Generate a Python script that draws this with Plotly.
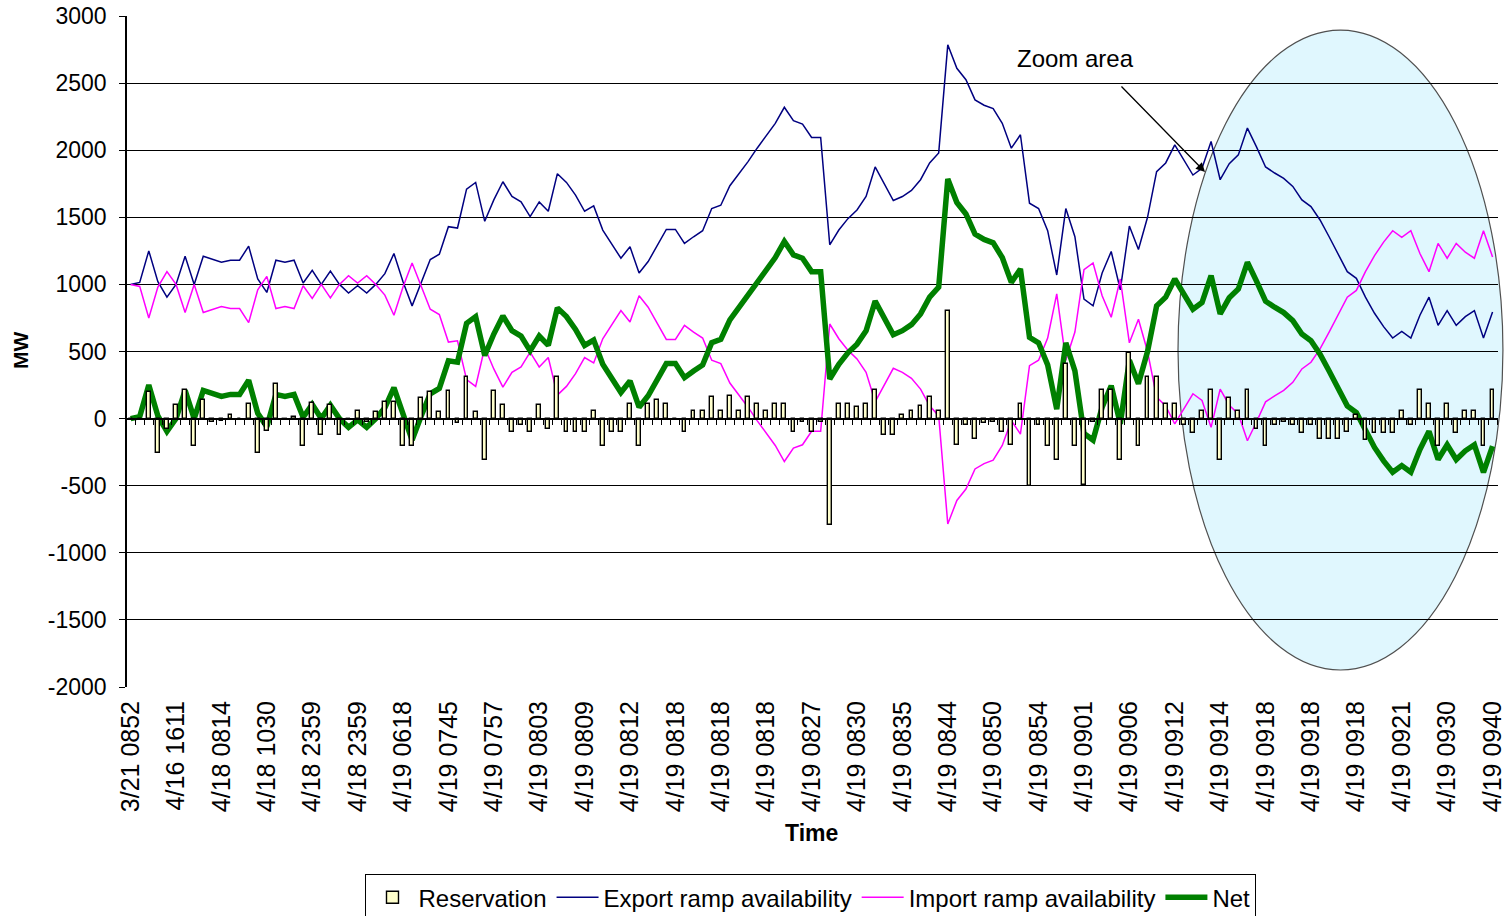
import plotly.graph_objects as go

# ---------------- data ----------------
tick_labels = ["3/21 0852", "4/16 1611", "4/18 0814", "4/18 1030", "4/18 2359", "4/18 2359",
               "4/19 0618", "4/19 0745", "4/19 0757", "4/19 0803", "4/19 0809", "4/19 0812",
               "4/19 0818", "4/19 0818", "4/19 0818", "4/19 0827", "4/19 0830", "4/19 0835",
               "4/19 0844", "4/19 0850", "4/19 0854", "4/19 0901", "4/19 0906", "4/19 0912",
               "4/19 0914", "4/19 0918", "4/19 0918", "4/19 0918", "4/19 0921", "4/19 0930",
               "4/19 0940"]

y_ticks = [-2000, -1500, -1000, -500, 0, 500, 1000, 1500, 2000, 2500, 3000]

export_ramp = [1000, 1015, 1250, 1020, 905, 1000, 1210, 1000, 1210, 1185,
               1165, 1180, 1180, 1285, 1040, 940, 1180, 1165, 1180, 1010,
               1105, 1000, 1100, 1000, 935, 990, 935, 1000, 1080, 1230,
               1020, 840, 1020, 1185, 1225, 1430, 1420, 1710, 1760, 1470,
               1630, 1765, 1655, 1615, 1505, 1615, 1545, 1825, 1760, 1665,
               1545, 1585, 1405, 1295, 1195, 1280, 1085, 1170, 1295, 1410,
               1410, 1305, 1355, 1400, 1565, 1590, 1735, 1825, 1915, 2015,
               2105, 2200, 2320, 2220, 2195, 2095, 2095, 1295, 1405, 1490,
               1555, 1655, 1875, 1755, 1625, 1655, 1700, 1780, 1905, 1980,
               2785, 2610, 2525, 2375, 2335, 2310, 2200, 2015, 2115, 1605,
               1565, 1400, 1070, 1565, 1355, 890, 840, 1085, 1245, 960,
               1435, 1260, 1500, 1840, 1905, 2040, 1925, 1815, 1865, 2065,
               1780, 1900, 1965, 2165, 2025, 1875, 1830, 1790, 1730, 1630,
               1580, 1480, 1355, 1220, 1095, 1045, 905, 785, 685, 600,
               650, 600, 770, 905, 695, 805, 695, 760, 805, 600,
               795]

import_ramp = [1000, 985, 750, 980, 1095, 1000, 790, 1000, 790, 815,
               835, 820, 820, 715, 960, 1060, 820, 835, 820, 990,
               895, 1000, 900, 1000, 1065, 1010, 1065, 1000, 920, 770,
               980, 1160, 980, 815, 775, 570, 580, 290, 240, 530,
               370, 235, 345, 385, 495, 385, 455, 175, 240, 335,
               455, 415, 595, 705, 805, 720, 915, 830, 705, 590,
               590, 695, 645, 600, 435, 410, 265, 175, 85, -15,
               -105, -200, -320, -220, -195, -95, -95, 705, 595, 510,
               445, 345, 125, 245, 375, 345, 300, 220, 95, 20,
               -785, -610, -525, -375, -335, -310, -200, -15, -115, 395,
               435, 600, 930, 435, 645, 1110, 1160, 915, 755, 1040,
               565, 740, 500, 160, 95, -40, 75, 185, 135, -65,
               220, 100, 35, -165, -25, 125, 170, 210, 270, 370,
               420, 520, 645, 780, 905, 955, 1095, 1215, 1315, 1400,
               1350, 1400, 1230, 1095, 1305, 1195, 1305, 1240, 1195, 1400,
               1205]

net = [0, 15, 250, 20, -95, 0, 210, 0, 210, 185,
       165, 180, 180, 285, 40, -60, 180, 165, 180, 10,
       105, 0, 100, 0, -65, -10, -65, 0, 80, 230,
       20, -160, 20, 185, 225, 430, 420, 710, 760, 470,
       630, 765, 655, 615, 505, 615, 545, 825, 760, 665,
       545, 585, 405, 295, 195, 280, 85, 170, 295, 410,
       410, 305, 355, 400, 565, 590, 735, 825, 915, 1015,
       1105, 1200, 1320, 1220, 1195, 1095, 1095, 295, 405, 490,
       555, 655, 875, 755, 625, 655, 700, 780, 905, 980,
       1785, 1610, 1525, 1375, 1335, 1310, 1200, 1015, 1115, 605,
       565, 400, 70, 565, 355, -110, -160, 85, 245, -40,
       435, 260, 500, 840, 905, 1040, 925, 815, 865, 1065,
       780, 900, 965, 1165, 1025, 875, 830, 790, 730, 630,
       580, 480, 355, 220, 95, 45, -95, -215, -315, -400,
       -350, -400, -230, -95, -305, -195, -305, -240, -195, -400,
       -205]

reservation = [0, 0, 200, -255, -75, 105, 210, -205, 135, -25,
               -15, 25, 0, 110, -255, -95, 260, -10, 15, -205,
               120, -120, 100, -125, -10, 55, -25, 50, 125, 125,
               -205, -205, 155, 200, 50, 205, -30, 310, 50, -305,
               205, 105, -100, -50, -100, 105, -75, 310, -100, -100,
               -100, 55, -205, -100, -100, 110, -205, 110, 135, 110,
               0, -100, 55, 55, 160, 55, 170, 55, 160, 110,
               55, 110, 110, -100, -25, -100, -25, -795, 110, 110,
               85, 110, 210, -125, -125, 25, 60, 95, 160, 60,
               805, -200, -50, -150, -35, -25, -100, -200, 110, -500,
               -50, -205, -305, 410, -205, -495, -25, 210, 210, -305,
               490, -205, 310, 310, 110, 110, -50, -110, 60, 210,
               -305, 155, 60, 210, -75, -205, -50, -25, -50, -110,
               -50, -155, -155, -155, -100, 25, -160, -105, -105, -105,
               60, -50, 210, 110, -205, 110, -105, 60, 60, -205,
               210]

# ---------------- figure ----------------
N = len(export_ramp)
xs = list(range(N))
label_step = 5
tick_pos = list(range(0, N, label_step))
boundaries = [k - 0.5 for k in range(N + 1)]
xrange_ = [-0.4, N - 0.4]

FONT = "Liberation Sans, Arial, sans-serif"

fig = go.Figure()
fig.add_trace(go.Bar(
    x=xs, y=reservation, name="Reservation", xaxis="x2",
    width=0.42,
    marker=dict(color="#FFFFCC", line=dict(color="#000000", width=1.4)),
))
fig.add_trace(go.Scatter(
    x=xs, y=export_ramp, name="Export ramp availability", mode="lines",
    line=dict(color="#000080", width=1.5),
))
fig.add_trace(go.Scatter(
    x=xs, y=import_ramp, name="Import ramp availability", mode="lines",
    line=dict(color="#FF00FF", width=1.5),
))
fig.add_trace(go.Scatter(
    x=xs, y=net, name="Net", mode="lines",
    line=dict(color="#008000", width=5.5),
))

fig.update_layout(
    width=1504, height=916,
    margin=dict(l=127, r=6, t=16, b=229, autoexpand=False),
    paper_bgcolor="white",
    plot_bgcolor="rgba(0,0,0,0)",
    font=dict(family=FONT, size=23, color="black"),
    showlegend=True,
    bargap=0,
    hovermode=False,
    xaxis=dict(
        range=xrange_, tickmode="array", tickvals=tick_pos, ticktext=tick_labels,
        tickangle=-90, showgrid=False, zeroline=False, showline=False,
        ticks="", ticklabelstandoff=8, tickfont=dict(size=25),
        ticklabeloverflow="allow", automargin=False,
    ),
    xaxis2=dict(
        range=xrange_, overlaying="x", anchor="free", position=0.4,
        tickmode="array", tickvals=boundaries, ticks="outside", ticklen=6,
        tickcolor="black", tickwidth=1, showticklabels=False,
        showline=True, linecolor="black", linewidth=1.5, showgrid=False,
        zeroline=False, automargin=False,
    ),
    yaxis=dict(
        range=[-2000, 3000], tickmode="array", tickvals=y_ticks,
        ticktext=[str(v) for v in y_ticks],
        showgrid=True, gridcolor="black", gridwidth=1,
        showline=True, linecolor="black", linewidth=1.5,
        ticks="outside", ticklen=6, tickcolor="black",
        zeroline=False, ticklabelstandoff=8, tickfont=dict(size=23),
        automargin=False,
    ),
    legend=dict(
        orientation="h", x=0.4989, xanchor="center", y=-0.279, yanchor="top",
        bordercolor="black", borderwidth=1, bgcolor="white",
        font=dict(size=24), tracegroupgap=0, itemwidth=42,
    ),
)

# zoom area ellipse
fig.add_shape(
    type="circle", xref="paper", yref="paper",
    x0=0.7666, x1=1.0036, y0=0.0253, y1=0.979,
    fillcolor="#E0F7FE", line=dict(color="#505050", width=1.2), layer="below",
)

# annotations
fig.add_annotation(
    text="Zoom area", xref="paper", yref="paper", x=(1075 - 127) / 1371, y=(687 - 58) / 671,
    showarrow=False, font=dict(size=24), xanchor="center", yanchor="middle",
)
fig.add_annotation(
    text="", xref="paper", yref="paper",
    x=(1205 - 127) / 1371, y=(687 - 172) / 671,
    ax=-85, ay=-87, showarrow=True, arrowhead=2, arrowsize=1.4,
    arrowwidth=1.3, arrowcolor="black",
)
fig.add_annotation(
    text="<b>Time</b>", xref="paper", yref="paper", x=(811 - 127) / 1371, y=(687 - 833) / 671,
    showarrow=False, font=dict(size=23), xanchor="center", yanchor="middle",
)
fig.add_annotation(
    text="<b>MW</b>", xref="paper", yref="paper", x=(20 - 127) / 1371, y=(687 - 351) / 671,
    showarrow=False, font=dict(size=21), textangle=-90,
    xanchor="center", yanchor="middle",
)

fig.write_html(
    "out.html",
    config={"displayModeBar": False},
    post_script="document.body.style.margin='0px'; document.body.style.overflow='hidden';",
)
